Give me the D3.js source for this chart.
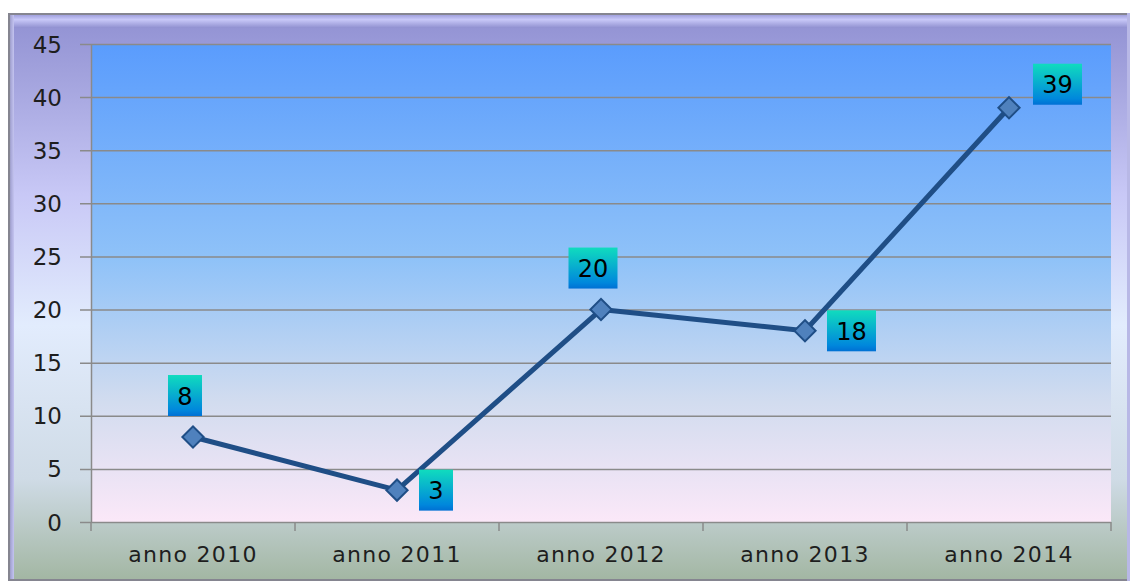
<!DOCTYPE html>
<html>
<head>
<meta charset="utf-8">
<script src="https://cdn.jsdelivr.net/npm/d3@7"></script>
<style>
  body { margin: 0; background: #fff; }
  text { font-family: "DejaVu Sans", Verdana, sans-serif; }
</style>
</head>
<body>
<script>
// dati del grafico
let categories = ['anno 2010', 'anno 2011', 'anno 2012', 'anno 2013', 'anno 2014'];
let values = [8, 3, 20, 18, 39];
let yTicks = [0, 5, 10, 15, 20, 25, 30, 35, 40, 45];
let labelPlace = ['above', 'right', 'above', 'right', 'upright'];

let width = 1132;
let height = 583;
let svg = d3.select('body')
  .append('svg')
  .attr('width', width)
  .attr('height', height);

let defs = svg.append('defs');

function grad(id, stops, x2, y2) {
  let g = defs.append('linearGradient')
    .attr('id', id)
    .attr('x1', '0%').attr('y1', '0%')
    .attr('x2', x2 || '0%').attr('y2', y2 || '100%');
  stops.forEach(function (s) {
    g.append('stop').attr('offset', s[0]).style('stop-color', s[1]);
  });
}

// sfondo esterno
grad('outerBg', [['0%', '#9090d2'], ['12%', '#a4a4de'], ['32%', '#c8c8f6'], ['55%', '#e2ecfd'], ['82%', '#cfdbe6'], ['100%', '#a2b6a2']]);
// area del grafico
grad('plotBg', [['0%', '#5a9cfd'], ['45%', '#8fc2f8'], ['75%', '#d2dcef'], ['100%', '#fbe8f8']]);
// etichette
grad('labelBg', [['0%', '#10dcbe'], ['85%', '#0088dc'], ['100%', '#0070d4']]);
grad('topBevel', [['0%', '#9898d8'], ['40%', '#c8c8f8'], ['100%', '#9090d0']]);
grad('leftBevel', [['0%', '#8888a0'], ['50%', '#a8a8d8'], ['100%', '#c4c4f0']], '100%', '0%');

let frame = { x: 8, y: 13, w: 1122, h: 568 };
svg.append('rect')
  .attr('x', frame.x).attr('y', frame.y)
  .attr('width', frame.w).attr('height', frame.h)
  .style('fill', 'url(#outerBg)');
svg.append('rect')
  .attr('x', frame.x).attr('y', frame.y + 1)
  .attr('width', frame.w).attr('height', 14)
  .style('fill', 'url(#topBevel)');
svg.append('rect')
  .attr('x', frame.x).attr('y', frame.y)
  .attr('width', 6).attr('height', frame.h)
  .style('fill', 'url(#leftBevel)');
svg.append('rect')
  .attr('x', frame.x + 1).attr('y', frame.y + 1)
  .attr('width', frame.w - 2).attr('height', frame.h - 2)
  .style('fill', 'none').style('stroke', '#858590').style('stroke-width', 2);
svg.append('rect')
  .attr('x', frame.x + frame.w - 3).attr('y', frame.y)
  .attr('width', 3).attr('height', frame.h)
  .style('fill', '#b8b8e6');

let margin = { left: 91, right: 1111, top: 44, bottom: 522 };

let x = d3.scaleBand()
  .domain(categories)
  .range([margin.left, margin.right]);
let y = d3.scaleLinear()
  .domain([0, 45])
  .range([margin.bottom, margin.top]);

svg.append('rect')
  .attr('x', margin.left).attr('y', margin.top)
  .attr('width', margin.right - margin.left)
  .attr('height', margin.bottom - margin.top)
  .style('fill', 'url(#plotBg)');

// griglia
svg.append('g')
  .selectAll('line')
  .data(yTicks)
  .enter().append('line')
  .attr('x1', margin.left - 11).attr('x2', margin.right)
  .attr('y1', function (d) { return y(d) + 0.5; })
  .attr('y2', function (d) { return y(d) + 0.5; })
  .style('stroke', '#8a8a8a').style('stroke-width', 1.5);

svg.append('line')
  .attr('x1', margin.left + 0.5).attr('x2', margin.left + 0.5)
  .attr('y1', margin.top).attr('y2', margin.bottom)
  .style('stroke', '#8a8a8a').style('stroke-width', 1.5);

// tick asse x ai bordi delle categorie
let xEdges = categories.map(function (c) { return x(c); }).concat([margin.right]);
svg.append('g')
  .selectAll('line')
  .data(xEdges)
  .enter().append('line')
  .attr('x1', function (d) { return d; })
  .attr('x2', function (d) { return d; })
  .attr('y1', margin.bottom).attr('y2', margin.bottom + 9)
  .style('stroke', '#8a8a8a').style('stroke-width', 1.5);

svg.append('g')
  .selectAll('text')
  .data(yTicks)
  .enter().append('text')
  .attr('x', 62)
  .attr('y', function (d) { return y(d) + 8.5; })
  .attr('text-anchor', 'end')
  .style('font-size', '23px')
  .style('fill', '#1e1e1e')
  .text(function (d) { return d; });

svg.append('g')
  .selectAll('text')
  .data(categories)
  .enter().append('text')
  .attr('x', function (d) { return x(d) + x.bandwidth() / 2; })
  .attr('y', 562)
  .attr('text-anchor', 'middle')
  .style('font-size', '22px')
  .style('letter-spacing', '1.3px')
  .style('fill', '#1e1e1e')
  .text(function (d) { return d; });

// linea
let pts = values.map(function (v, i) {
  return [x(categories[i]) + x.bandwidth() / 2, y(v)];
});
svg.append('path')
  .datum(pts)
  .attr('d', d3.line())
  .style('fill', 'none')
  .style('stroke', '#1f4e86')
  .style('stroke-width', 5)
  .style('stroke-linejoin', 'round');

svg.append('g')
  .selectAll('rect')
  .data(pts)
  .enter().append('rect')
  .attr('x', -7.5).attr('y', -7.5)
  .attr('width', 15).attr('height', 15)
  .attr('transform', function (d) {
    return 'translate(' + d[0] + ',' + d[1] + '),rotate(45)';
  })
  .style('fill', '#4f81bd')
  .style('stroke', '#1f4e86')
  .style('stroke-width', 2);

// etichette dei valori
let labels = svg.append('g');
values.forEach(function (v, i) {
  let p = pts[i];
  let w = String(v).length * 15 + 19;
  let h = 41;
  let bx, by;
  if (labelPlace[i] === 'above') {
    bx = p[0] - 8 - w / 2;
    by = p[1] - 21 - h;
  } else if (labelPlace[i] === 'right') {
    bx = p[0] + 22;
    by = p[1] - h / 2;
  } else {
    bx = p[0] + 24;
    by = p[1] - 44;
  }
  labels.append('rect')
    .attr('x', bx).attr('y', by)
    .attr('width', w).attr('height', h)
    .style('fill', 'url(#labelBg)');
  labels.append('text')
    .attr('x', bx + w / 2)
    .attr('y', by + h / 2 + 9)
    .attr('text-anchor', 'middle')
    .style('font-size', '24px')
    .style('fill', '#000')
    .text(v);
});
</script>
</body>
</html>
